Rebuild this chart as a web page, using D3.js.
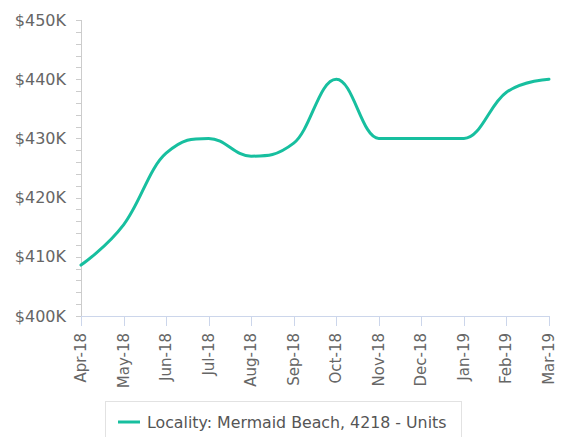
<!DOCTYPE html>
<html><head><meta charset="utf-8">
<script src="https://cdn.jsdelivr.net/npm/d3@7"></script>
<style>body{margin:0;background:#fff}svg{display:block;font-family:"DejaVu Sans",sans-serif}</style>
</head><body><svg id="c" width="565" height="437"></svg>
<script>
const months = ["Apr-18","May-18","Jun-18","Jul-18","Aug-18","Sep-18","Oct-18","Nov-18","Dec-18","Jan-19","Feb-19","Mar-19"];
const values = [408600,415400,427500,430000,427000,429200,440000,430000,430000,430000,437800,440000];
const yTicks = [400000,410000,420000,430000,440000,450000];
const seriesName = "Locality: Mermaid Beach, 4218 - Units";

const svg = d3.select("#c");
const x = d3.scalePoint().domain(months).range([81, 549]);
const y = d3.scaleLinear().domain([400000, 450000]).range([316, 20]);

// y axis
const minor = d3.range(400000, 450001, 2000);
svg.append("line").attr("x1",81.5).attr("x2",81.5).attr("y1",y(450000)).attr("y2",y(400000)).attr("stroke","#ccc");
svg.selectAll(".ymt").data(minor).enter().append("line")
  .attr("x1",76).attr("x2",81).attr("y1",d=>Math.round(y(d))+0.5).attr("y2",d=>Math.round(y(d))+0.5).attr("stroke","#ccc");
svg.selectAll(".yl").data(yTicks).enter().append("text")
  .attr("x",66).attr("y",d=>y(d)+5.5).attr("text-anchor","end").attr("fill","#666").attr("font-size","16px")
  .text(d=>"$"+(d/1000)+"K");

// x axis
svg.append("line").attr("x1",81).attr("x2",549).attr("y1",316.5).attr("y2",316.5).attr("stroke","#ccd6eb");
svg.selectAll(".xt").data(months).enter().append("line")
  .attr("x1",d=>Math.round(x(d))+0.5).attr("x2",d=>Math.round(x(d))+0.5).attr("y1",316).attr("y2",326).attr("stroke","#ccd6eb");
svg.selectAll(".xl").data(months).enter().append("text")
  .attr("transform",d=>`translate(${x(d)+5},333) rotate(-90)`).attr("text-anchor","end")
  .attr("fill","#666").attr("font-size","15px").text(d=>d);

// Highcharts-like spline
const pts = months.map((m,i)=>[x(m), y(values[i])]);
const sm = 1.5, den = sm+1;
const ctrl = pts.map((p,i)=>{
  if(i===0||i===pts.length-1) return {l:p.slice(), r:p.slice()};
  const [px,py]=p, [lx,ly]=pts[i-1], [nx,ny]=pts[i+1];
  let lcx=(sm*px+lx)/den, lcy=(sm*py+ly)/den, rcx=(sm*px+nx)/den, rcy=(sm*py+ny)/den;
  const corr=((rcy-lcy)*(rcx-px))/(rcx-lcx)+py-rcy;
  lcy+=corr; rcy+=corr;
  if(lcy>ly&&lcy>py){lcy=Math.max(ly,py);rcy=2*py-lcy;}
  else if(lcy<ly&&lcy<py){lcy=Math.min(ly,py);rcy=2*py-lcy;}
  if(rcy>ny&&rcy>py){rcy=Math.max(ny,py);lcy=2*py-rcy;}
  else if(rcy<ny&&rcy<py){rcy=Math.min(ny,py);lcy=2*py-rcy;}
  return {l:[lcx,lcy], r:[rcx,rcy]};
});
const path = d3.path();
path.moveTo(pts[0][0],pts[0][1]);
for(let i=1;i<pts.length;i++){
  path.bezierCurveTo(ctrl[i-1].r[0],ctrl[i-1].r[1],ctrl[i].l[0],ctrl[i].l[1],pts[i][0],pts[i][1]);
}
svg.append("path").attr("d",path.toString()).attr("fill","none").attr("stroke","#17bf9f")
  .attr("stroke-width",3).attr("stroke-linejoin","round").attr("stroke-linecap","round");

// legend
svg.append("rect").attr("x",105.5).attr("y",401.5).attr("width",356).attr("height",45)
  .attr("fill","#fff").attr("stroke","#e2e2e2");
svg.append("line").attr("x1",118).attr("x2",140).attr("y1",422).attr("y2",422).attr("stroke","#17bf9f").attr("stroke-width",3);
svg.append("text").attr("x",147).attr("y",427.5).attr("fill","#555").attr("font-size","15.8px").text(seriesName);
</script></body></html>
